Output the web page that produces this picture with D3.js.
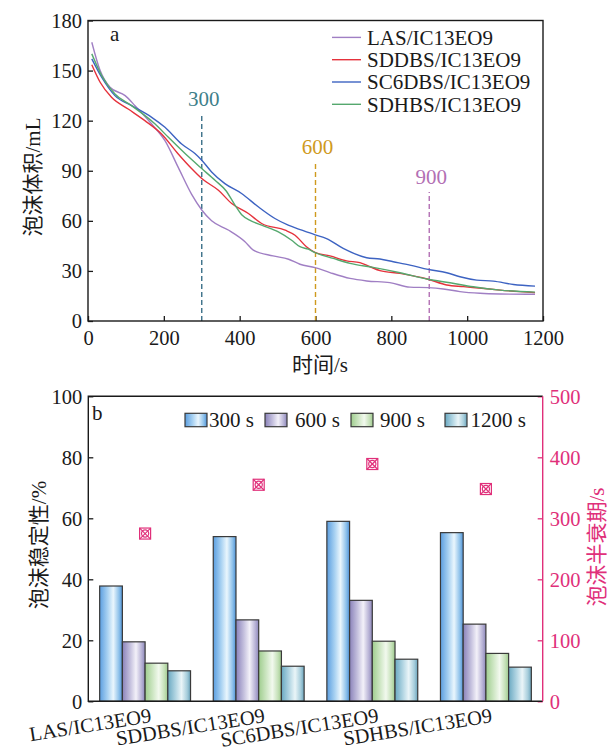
<!DOCTYPE html>
<html>
<head>
<meta charset="utf-8">
<script src="https://cdn.jsdelivr.net/npm/d3@7/dist/d3.min.js"></script>
<style>
  html, body { margin: 0; padding: 0; background: #fff; }
  svg { display: block; }
  text { font-family: "Liberation Serif", "Times New Roman", "Noto Sans CJK SC", serif; }
</style>
</head>
<body>
<svg id="chart" width="610" height="751"></svg>
<script>
// ---------- panel a: foam volume decay ----------
const seriesNames = ["LAS/IC13EO9", "SDDBS/IC13EO9", "SC6DBS/IC13EO9", "SDHBS/IC13EO9"];
const seriesColors = ["#a07fc4", "#e5323c", "#3d63c2", "#55a86e"];

// [time s, foam volume mL]
const volLAS = [[10,167],[32,150],[58,140],[98,135],[124,129],[168,118],[203,108],[238,92],[273,76],[300,66.5],[326,60],[370,54.5],[414,47.5],[436,42.5],[488,39],[529,37],[559,34],[599,32],[638,29],[691,25.5],[735,24],[796,23],[849,20.3],[897,20],[937,19.2],[981,17.6],[1034,16.6],[1087,16.2],[1179,16]];
const volSDDBS = [[10,153.5],[32,143],[62,134],[106,127],[150,120],[194,112],[238,100],[273,91.3],[300,85.3],[344,78.3],[379,70.4],[423,64.4],[458,58.4],[520,54.4],[546,51.4],[576,44.5],[600,41],[638,39],[682,36],[717,35],[744,32.5],[770,30.2],[823,28.5],[897,25],[946,21.6],[990,20.6],[1038,19.6],[1087,18.5],[1179,17]];
const volSC6DBS = [[10,157],[36,146],[71,135],[115,129],[168,122],[203,116],[247,106],[282,100.3],[300,96.3],[326,89.3],[361,82.3],[405,76.4],[449,68.4],[493,61.4],[528,57.4],[564,54.4],[599,51.6],[629,49.4],[673,43.5],[735,37.9],[770,37.1],[805,35.5],[849,33.5],[897,30.9],[946,28.9],[981,26.5],[1025,24.5],[1069,23.9],[1122,21.9],[1179,20.9]];
const volSDHBS = [[10,160],[36,147],[71,136],[115,129],[177,118],[212,110],[256,100.3],[300,91.3],[335,84.3],[364,78],[386,70],[406,63.5],[430,60],[458,57.4],[502,53.4],[537,48.4],[559,44.5],[581,43],[599,41],[647,37.5],[691,34.5],[752,32.1],[823,28.9],[897,25],[955,22.9],[1016,20.5],[1087,18.5],[1179,17.3]];
const volumeSeries = [volLAS, volSDDBS, volSC6DBS, volSDHBS];

// reference times with the height their dashed guides reach (mL)
const guideTimes = [300, 600, 900];
const guideTops = [124.2, 95.3, 77.3];
const guideColors = ["#3f7f8a", "#cf9a1d", "#b370b4"];
const guideLineColors = ["#3a6f88", "#cf9a1d", "#b370b4"];

const xTicksA = [0, 200, 400, 600, 800, 1000, 1200];
const yTicksA = [0, 30, 60, 90, 120, 150, 180];

// ---------- panel b: foam stability and half-life ----------
const barTimes = ["300 s", "600 s", "900 s", "1200 s"];
// stability (%) per system, in the order of barTimes
const stabLAS = [37.8, 19.5, 12.5, 10.0];
const stabSDDBS = [54.0, 26.7, 16.5, 11.5];
const stabSC6DBS = [59.0, 33.1, 19.7, 13.8];
const stabSDHBS = [55.3, 25.3, 15.7, 11.2];
const stability = [stabLAS, stabSDDBS, stabSC6DBS, stabSDHBS];
// foam half-life (s)
const halfLife = [275, 355, 389, 348];

const yTicksB = [0, 20, 40, 60, 80, 100];
const yTicksBRight = [0, 100, 200, 300, 400, 500];

const gradStops = [
  [["0", "#5b9ee0"], ["0.35", "#a9d2f2"], ["0.6", "#eaf6fd"], ["0.85", "#8ec1ea"], ["1", "#4f93d8"]],
  [["0", "#8a82ba"], ["0.35", "#c5c1de"], ["0.6", "#f3f1f9"], ["0.85", "#b7b2d5"], ["1", "#8d87bb"]],
  [["0", "#9fcd8e"], ["0.35", "#cfe7c5"], ["0.6", "#f2f9ee"], ["0.85", "#c4e0b7"], ["1", "#9ec98d"]],
  [["0", "#6aa9c2"], ["0.35", "#b3d6e3"], ["0.6", "#eaf5f8"], ["0.85", "#a6cddb"], ["1", "#6aa3bb"]]
];
const pink = "#e0307a";
const ink = "#1a1a1a";
const fontSize = 20.5;
const fmt = d3.format("d");

const svg = d3.select("#chart");
svg.append("rect").attr("width", 610).attr("height", 751).attr("fill", "#fff");

function styleAxis(g, color) {
  g.select(".domain").remove();
  g.selectAll(".tick line").attr("stroke", color).attr("stroke-width", 1.3);
  g.selectAll(".tick text").attr("fill", color).style("font-size", fontSize + "px")
    .style("font-family", "'Liberation Serif', 'Times New Roman', serif");
}

// ================= panel a =================
const xA = d3.scaleLinear().domain([0, 1200]).range([88, 543]);
const yA = d3.scaleLinear().domain([0, 180]).range([321, 20.5]);

const gA = svg.append("g");

gA.append("g").attr("transform", `translate(0,${yA(0)})`)
  .call(d3.axisBottom(xA).tickValues(xTicksA).tickFormat(fmt).tickSizeInner(-5).tickSizeOuter(0).tickPadding(9))
  .call(g => styleAxis(g, ink));
gA.append("g").attr("transform", `translate(${xA(0)},0)`)
  .call(d3.axisLeft(yA).tickValues(yTicksA).tickFormat(fmt).tickSizeInner(-5).tickSizeOuter(0).tickPadding(6))
  .call(g => styleAxis(g, ink))
  .call(g => g.selectAll(".tick text").attr("dy", "0.34em"));

// dashed reference guides
guideTimes.forEach((t, i) => {
  gA.append("line")
    .attr("x1", xA(t)).attr("x2", xA(t))
    .attr("y1", yA(0)).attr("y2", yA(guideTops[i]))
    .attr("stroke", guideLineColors[i]).attr("stroke-width", 1.4)
    .attr("stroke-dasharray", "5,3");
  gA.append("text")
    .attr("x", xA(t) + 2).attr("y", yA(guideTops[i]) - 8)
    .attr("text-anchor", "middle")
    .attr("fill", guideColors[i])
    .style("font-size", "21px")
    .text(t);
});

const line = d3.line().x(d => xA(d[0])).y(d => yA(d[1])).curve(d3.curveMonotoneX);
volumeSeries.forEach((s, i) => {
  gA.append("path").datum(s)
    .attr("d", line).attr("fill", "none")
    .attr("stroke", seriesColors[i]).attr("stroke-width", 1.4);
});

// frame
gA.append("rect")
  .attr("x", xA(0)).attr("y", yA(180))
  .attr("width", xA(1200) - xA(0)).attr("height", yA(0) - yA(180))
  .attr("fill", "none").attr("stroke", ink).attr("stroke-width", 1.4);

// legend
const legA = gA.append("g");
seriesNames.forEach((name, i) => {
  const y = 37.4 + i * 22.3;
  legA.append("line").attr("x1", 332).attr("x2", 361).attr("y1", y).attr("y2", y)
    .attr("stroke", seriesColors[i]).attr("stroke-width", 1.4);
  legA.append("text").attr("x", 367).attr("y", y).attr("dy", "0.35em")
    .attr("fill", ink).style("font-size", "21px").text(name);
});

gA.append("text").attr("x", 110).attr("y", 41).attr("fill", ink)
  .style("font-size", "21px").text("a");

gA.append("text").attr("x", 320).attr("y", 372).attr("text-anchor", "middle")
  .attr("fill", ink).style("font-size", "21px").text("时间/s");
gA.append("text")
  .attr("transform", "translate(33,177) rotate(-90)")
  .attr("text-anchor", "middle").attr("dy", "0.35em")
  .attr("fill", ink).style("font-size", "21px").text("泡沫体积/mL");

// ================= panel b =================
const x0 = d3.scaleBand().domain(seriesNames).range([88.3, 542.7]).paddingInner(0).paddingOuter(0);
const x1 = d3.scaleBand().domain(barTimes).range([0, x0.bandwidth() * 0.8]);
const yB = d3.scaleLinear().domain([0, 100]).range([701.3, 396.3]);
const yR = d3.scaleLinear().domain([0, 500]).range([701.3, 396.3]);

const gB = svg.append("g");
const defs = svg.append("defs");
barTimes.forEach((t, j) => {
  const lg = defs.append("linearGradient").attr("id", "grad" + j)
    .attr("x1", "0").attr("x2", "1").attr("y1", "0").attr("y2", "0");
  gradStops[j].forEach(s => lg.append("stop").attr("offset", s[0]).attr("stop-color", s[1]));
});

const groups = gB.selectAll("g.sys").data(seriesNames).join("g")
  .attr("class", "sys")
  .attr("transform", d => `translate(${x0(d) + x0.bandwidth() * 0.1},0)`);
groups.each(function (name, i) {
  d3.select(this).selectAll("rect").data(stability[i]).join("rect")
    .attr("x", (d, j) => x1(barTimes[j]))
    .attr("y", d => yB(d))
    .attr("width", x1.bandwidth())
    .attr("height", d => yB(0) - yB(d))
    .attr("fill", (d, j) => `url(#grad${j})`)
    .attr("stroke", "#3a3a3a").attr("stroke-width", 1.2);
});

// half-life markers
seriesNames.forEach((name, i) => {
  const cx = x0(name) + x0.bandwidth() / 2, cy = yR(halfLife[i]), h = 5.5;
  const m = gB.append("g").attr("stroke", pink).attr("stroke-width", 1.2).attr("fill", "none");
  m.append("rect").attr("x", cx - h).attr("y", cy - h).attr("width", 2 * h).attr("height", 2 * h);
  m.append("line").attr("x1", cx - h).attr("y1", cy - h).attr("x2", cx + h).attr("y2", cy + h);
  m.append("line").attr("x1", cx - h).attr("y1", cy + h).attr("x2", cx + h).attr("y2", cy - h);
  m.append("circle").attr("cx", cx).attr("cy", cy).attr("r", 3.6);
});

gB.append("g").attr("transform", `translate(88.3,0)`)
  .call(d3.axisLeft(yB).tickValues(yTicksB).tickFormat(fmt).tickSizeInner(-5).tickSizeOuter(0).tickPadding(6))
  .call(g => styleAxis(g, ink))
  .call(g => g.selectAll(".tick text").attr("dy", "0.34em"));
gB.append("g").attr("transform", `translate(542.7,0)`)
  .call(d3.axisRight(yR).tickValues(yTicksBRight).tickFormat(fmt).tickSizeInner(-5).tickSizeOuter(0).tickPadding(7))
  .call(g => styleAxis(g, pink))
  .call(g => g.selectAll(".tick text").attr("dy", "0.34em"));

// frame: black on left/top/bottom, pink on the right
gB.append("path")
  .attr("d", `M542.7,${yB(100)}H88.3V${yB(0)}H542.7`)
  .attr("fill", "none").attr("stroke", ink).attr("stroke-width", 1.4);
gB.append("line").attr("x1", 542.7).attr("x2", 542.7).attr("y1", yB(100)).attr("y2", yB(0))
  .attr("stroke", pink).attr("stroke-width", 1.4);

// category labels
seriesNames.forEach(name => {
  const ax = x0(name) + x0.bandwidth() / 2 + 7;
  gB.append("text")
    .attr("transform", `translate(${ax},722) rotate(-9)`)
    .attr("text-anchor", "end").attr("fill", ink)
    .style("font-size", fontSize + "px").text(name);
});

// legend
const legX = [185, 265, 351, 445];
const legTextX = [209, 295, 380, 470.5];
barTimes.forEach((t, j) => {
  gB.append("rect").attr("x", legX[j]).attr("y", 413.3).attr("width", 22).attr("height", 13.4)
    .attr("fill", `url(#grad${j})`).attr("stroke", "#3a3a3a").attr("stroke-width", 1.2);
  gB.append("text").attr("x", legTextX[j]).attr("y", 426.7).attr("fill", ink)
    .style("font-size", "21px").text(t);
});

gB.append("text").attr("x", 92).attr("y", 420).attr("fill", ink)
  .style("font-size", "21px").text("b");

gB.append("text")
  .attr("transform", "translate(38.5,545) rotate(-90)")
  .attr("text-anchor", "middle").attr("dy", "0.35em")
  .attr("fill", ink).style("font-size", "21px").text("泡沫稳定性/%");
gB.append("text")
  .attr("transform", "translate(597,547) rotate(-90)")
  .attr("text-anchor", "middle").attr("dy", "0.35em")
  .attr("fill", pink).style("font-size", "21px").text("泡沫半衰期/s");
</script>
</body>
</html>
